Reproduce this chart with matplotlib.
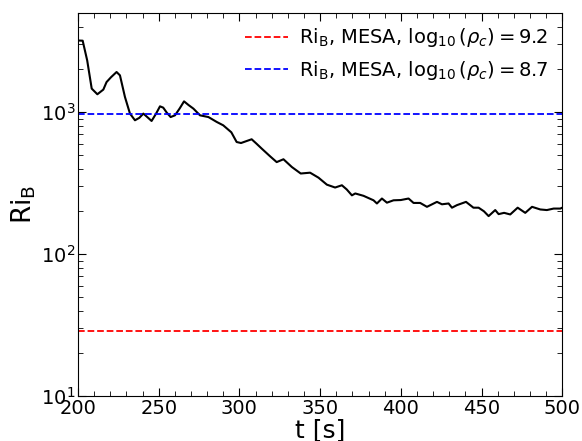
import matplotlib
matplotlib.use("Agg")
import matplotlib.pyplot as plt

# Richardson number vs time
t = [200, 202.9, 205.7, 208.5, 212, 215.7, 217.7, 220.5, 223.9, 226, 229.1, 232.2,
     235.3, 238, 240.5, 243, 245.6, 248.5, 250.8, 252.8, 255, 257.4, 260.1, 263,
     265.7, 268.5, 271.5, 275.6, 280.8, 286, 290, 295, 298.3, 301, 304.5, 307.6,
     310.5, 313.8, 319, 323.1, 327.3, 332.5, 338, 343.8, 349, 354.2, 359.3, 363.5,
     366.5, 369.7, 371.8, 376.9, 383.1, 385.2, 388.3, 391.4, 395.5, 400, 404.8,
     407.9, 412, 416.2, 422.4, 425.5, 429.6, 431.7, 434.8, 440.4, 445, 448.2,
     451.5, 454.4, 458.5, 460.6, 464, 467.8, 472.4, 477.1, 481.3, 486.4, 490.5,
     494.7, 498.8, 500]
ri = [3190, 3180, 2310, 1462, 1334, 1439, 1626, 1760, 1914, 1813, 1276, 975,
      875, 910, 975, 920, 865, 980, 1097, 1074, 990, 922, 948, 1060,
      1189, 1120, 1057, 948, 922, 851, 806, 720, 615, 605, 625, 643,
      600, 553, 488, 444, 465, 410, 369, 374, 345, 308, 294, 305,
      285, 259, 267, 257, 239, 227, 246, 230, 239, 240, 246,
      229, 229, 215, 233, 224, 227, 212, 221, 233, 212, 212,
      200, 185, 204, 191, 195, 190, 212, 195, 215, 206, 204,
      209, 209, 212]

ri_mesa_92 = 28.7
ri_mesa_87 = 965

plt.rcParams["font.family"] = "DejaVu Sans"
plt.rcParams["mathtext.fontset"] = "dejavusans"

fig = plt.figure(figsize=(5.82, 4.41), dpi=100)
ax = fig.add_axes([0.134, 0.102, 0.832, 0.869])

ax.plot(t, ri, color="black", lw=1.5)
ax.axhline(ri_mesa_92, color="red", ls="--", lw=1.3,
           label=r"Ri$_\mathrm{B}$, MESA, $\log_{10}(\rho_c) = 9.2$")
ax.axhline(ri_mesa_87, color="blue", ls="--", lw=1.3,
           label=r"Ri$_\mathrm{B}$, MESA, $\log_{10}(\rho_c) = 8.7$")

ax.set_yscale("log")
ax.set_xlim(200, 500)
ax.set_ylim(10, 5000)
ax.set_xticks([200, 250, 300, 350, 400, 450, 500])
ax.xaxis.set_minor_locator(matplotlib.ticker.MultipleLocator(10))
ax.tick_params(which="both", direction="in", top=True, right=True, labelsize=14, pad=2)
ax.tick_params(which="major", length=6)
ax.tick_params(which="minor", length=3.5)

ax.set_xlabel("t [s]", fontsize=18, labelpad=0)
ax.set_ylabel(r"Ri$_\mathrm{B}$", fontsize=19, labelpad=2)

ax.legend(loc="upper right", frameon=False, fontsize=14, handlelength=2.2,
          borderaxespad=0.3, handletextpad=0.6)

fig.savefig("out.png", dpi=100)
